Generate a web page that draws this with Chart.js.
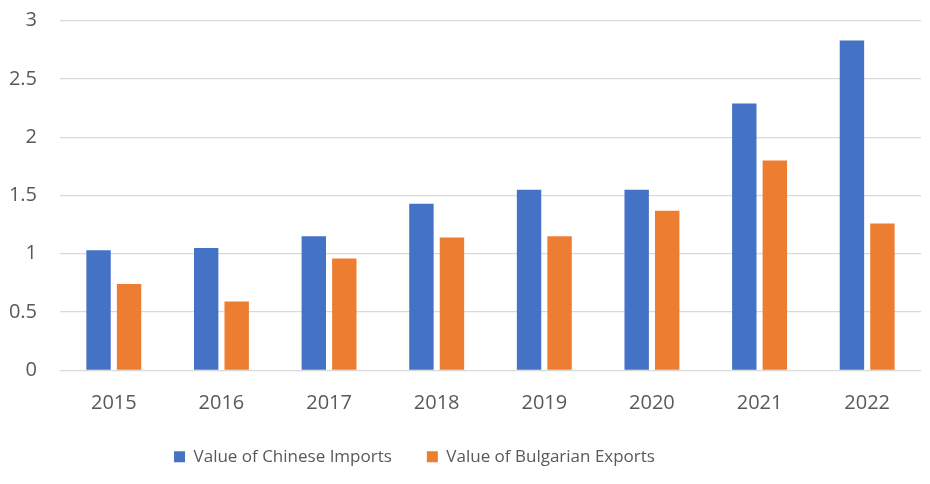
<!DOCTYPE html>
<html>
<head>
<meta charset="utf-8">
<script src="https://cdn.jsdelivr.net/npm/chart.js@4.4.0/dist/chart.umd.min.js"></script>
<style>
  html, body { margin: 0; padding: 0; background: #ffffff; }
  #wrap { width: 930px; height: 484px; }
</style>
</head>
<body>
<div id="wrap"><canvas id="c" width="930" height="484"></canvas></div>
<script>
const categories = ['2015', '2016', '2017', '2018', '2019', '2020', '2021', '2022'];
const chineseImports = [1.03, 1.05, 1.15, 1.43, 1.55, 1.55, 2.29, 2.83];
const bulgarianExports = [0.74, 0.59, 0.96, 1.14, 1.15, 1.37, 1.80, 1.26];
const yTicks = [0, 0.5, 1, 1.5, 2, 2.5, 3];

const FONT = '"Open Sans", "Liberation Sans", sans-serif';
const TEXT = '#595959';

const legendShift = {
  id: 'legendShift',
  afterLayout(chart) {
    const l = chart.legend;
    const dx = -46, dy = -15;
    l.left += dx; l.right += dx; l.top += dy; l.bottom += dy;
  }
};

new Chart(document.getElementById('c'), {
  type: 'bar',
  data: {
    labels: categories,
    datasets: [
      { label: 'Value of Chinese Imports', data: chineseImports, backgroundColor: '#4472C4',
        categoryPercentage: 0.567, barPercentage: 0.8 },
      { label: 'Value of Bulgarian Exports', data: bulgarianExports, backgroundColor: '#ED7D31',
        categoryPercentage: 0.567, barPercentage: 0.8 }
    ]
  },
  plugins: [legendShift],
  options: {
    responsive: false,
    animation: false,
    devicePixelRatio: 1,
    layout: { padding: { top: 20.7, right: 9, left: 0, bottom: -6.3 } },
    plugins: {
      tooltip: { enabled: false },
      legend: {
        position: 'bottom',
        labels: {
          font: { family: FONT, size: 17 },
          color: TEXT,
          boxWidth: 11,
          boxHeight: 11,
          padding: 35
        }
      }
    },
    scales: {
      x: {
        grid: { display: false },
        border: { display: false },
        ticks: { font: { family: FONT, size: 20 }, color: TEXT, padding: 13 }
      },
      y: {
        min: 0, max: 3,
        afterBuildTicks: (s) => { s.ticks = yTicks.map(v => ({ value: v })); },
        afterFit: (s) => { s.width = 60; s.paddingTop = 0; s.paddingBottom = 0; },
        grid: { color: '#d9d9d9', lineWidth: 1.3, drawTicks: false },
        border: { display: false },
        ticks: { font: { family: FONT, size: 20 }, color: TEXT, padding: 23,
                 callback: (v) => String(v) }
      }
    }
  }
});
</script>
</body>
</html>
